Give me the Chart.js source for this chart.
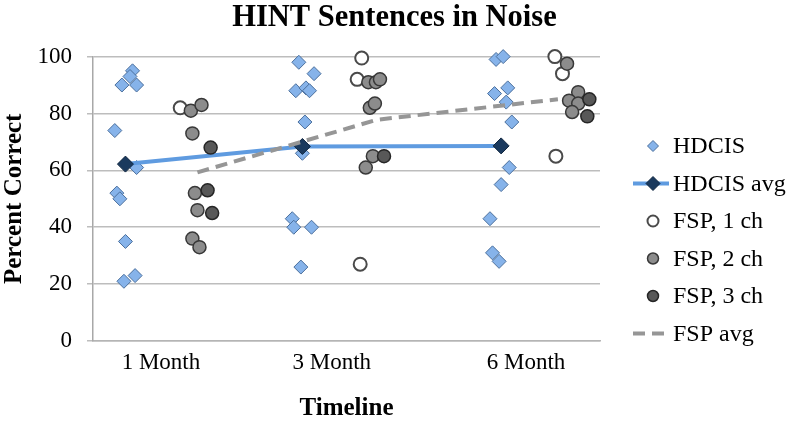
<!DOCTYPE html>
<html>
<head>
<meta charset="utf-8">
<script src="https://cdn.jsdelivr.net/npm/chart.js@4/dist/chart.umd.min.js"></script>
<style>
html, body { margin: 0; padding: 0; background: #fff; }
#wrap { width: 800px; height: 424px; }
</style>
</head>
<body>
<div id="wrap"><canvas id="hintChart"></canvas></div>
<script>
// x is a jitter position (0-100) along the timeline, y is percent correct
const TICK_POS = [13.4, 47.1, 85.4];
const TICK_LABELS = ['1 Month', '3 Month', '6 Month'];

const hdcisX = [7.8, 7.3, 5.7, 8.6, 4.3, 8.6, 4.7, 5.3, 6.4, 6.1, 8.3,
    40.6, 43.6, 40.0, 42.0, 42.7, 41.8, 41.3, 39.3, 39.6, 43.1, 41.0,
    79.5, 80.9, 79.2, 81.8, 81.5, 82.6, 82.1, 80.5, 78.3, 78.8, 80.1];
const hdcisY = [95, 93, 90, 90, 74, 61, 52, 50, 35, 21, 23,
    98, 94, 88, 89, 88, 77, 66, 43, 40, 40, 26,
    99, 100, 87, 89, 84, 77, 61, 55, 43, 31, 28];

const hdcisAvgX = [6.4, 41.3, 80.5];
const hdcisAvgY = [62.2, 68.4, 68.6];

const fsp1X = [17.2, 52.1, 53.0, 52.7, 91.1, 92.6, 91.3];
const fsp1Y = [82, 92, 99.5, 27, 100, 94, 65];

const fsp2X = [19.3, 21.4, 19.6, 20.1, 20.6, 19.6, 21.0,
    54.3, 55.8, 56.6, 54.6, 55.6, 55.2, 53.8,
    93.5, 95.7, 93.9, 95.7, 94.5];
const fsp2Y = [81, 83, 73, 52, 46, 36, 33,
    91, 91, 92, 82, 83.5, 65, 61,
    97.5, 87.5, 84.5, 83.5, 80.5];

const fsp3X = [23.2, 22.6, 23.5, 57.4, 97.9, 97.5];
const fsp3Y = [68, 53, 45, 65, 85, 79];

const fspAvgX = [20.6, 56.0, 91.7];
const fspAvgY = [59.3, 77.8, 85];

const SERIF = "'Liberation Serif', 'Times New Roman', serif";

const points = (xs, ys) => xs.map((x, i) => ({ x, y: ys[i] }));

// legend drawn in the right margin, one row per dataset
const sideLegend = {
    id: 'sideLegend',
    afterDraw(chart) {
        const ctx = chart.ctx;
        ctx.save();
        ctx.font = `24px ${SERIF}`;
        ctx.textBaseline = 'middle';
        chart.data.datasets.forEach((ds, i) => {
            const y = 146 + i * 37.5;
            const cx = 653;
            if (ds.showLine) {
                ctx.beginPath();
                ctx.setLineDash(ds.borderDash || []);
                ctx.strokeStyle = ds.borderColor;
                ctx.lineWidth = ds.borderWidth;
                ctx.moveTo(633, y);
                ctx.lineTo(669, y);
                ctx.stroke();
                ctx.setLineDash([]);
            }
            const r = ds.legendRadius;
            if (r) {
                ctx.beginPath();
                if (ds.pointStyle === 'rectRot') {
                    ctx.moveTo(cx - r, y);
                    ctx.lineTo(cx, y - r);
                    ctx.lineTo(cx + r, y);
                    ctx.lineTo(cx, y + r);
                    ctx.closePath();
                } else {
                    ctx.arc(cx, y, r, 0, Math.PI * 2);
                }
                ctx.fillStyle = ds.pointBackgroundColor;
                ctx.fill();
                ctx.strokeStyle = ds.pointBorderColor;
                ctx.lineWidth = ds.pointBorderWidth;
                ctx.stroke();
            }
            ctx.fillStyle = '#000';
            ctx.fillText(ds.label, 673, y + 1);
        });
        ctx.restore();
    },
};

new Chart(document.getElementById('hintChart'), {
    type: 'scatter',
    data: {
        datasets: [
            {
                label: 'HDCIS',
                data: points(hdcisX, hdcisY),
                pointStyle: 'rectRot',
                pointRadius: 7,
                pointBackgroundColor: '#86b3ea',
                pointBorderColor: '#4b6f9c',
                pointBorderWidth: 1,
                legendRadius: 5.5,
                clip: false,
                order: 6,
            },
            {
                label: 'HDCIS avg',
                data: points(hdcisAvgX, hdcisAvgY),
                showLine: true,
                borderColor: '#5f9be0',
                borderWidth: 4,
                pointStyle: 'rectRot',
                pointRadius: 8,
                pointBackgroundColor: '#1b3a5e',
                pointBorderColor: '#10263f',
                pointBorderWidth: 1,
                legendRadius: 7,
                clip: false,
                order: 5,
            },
            {
                label: 'FSP, 1 ch',
                data: points(fsp1X, fsp1Y),
                pointStyle: 'circle',
                pointRadius: 6.5,
                pointBackgroundColor: '#ffffff',
                pointBorderColor: '#4a4a4a',
                pointBorderWidth: 2,
                legendRadius: 5.5,
                clip: false,
                order: 4,
            },
            {
                label: 'FSP, 2 ch',
                data: points(fsp2X, fsp2Y),
                pointStyle: 'circle',
                pointRadius: 6.5,
                pointBackgroundColor: '#8c8c8c',
                pointBorderColor: '#383838',
                pointBorderWidth: 1.5,
                legendRadius: 5.5,
                clip: false,
                order: 3,
            },
            {
                label: 'FSP, 3 ch',
                data: points(fsp3X, fsp3Y),
                pointStyle: 'circle',
                pointRadius: 6.5,
                pointBackgroundColor: '#585858',
                pointBorderColor: '#262626',
                pointBorderWidth: 1.5,
                legendRadius: 5.5,
                clip: false,
                order: 2,
            },
            {
                label: 'FSP avg',
                data: points(fspAvgX, fspAvgY),
                showLine: true,
                borderColor: '#969696',
                borderWidth: 4,
                borderDash: [12, 7],
                pointRadius: 0,
                clip: false,
                order: 1,
            },
        ],
    },
    options: {
        responsive: true,
        maintainAspectRatio: false,
        animation: false,
        events: [],
        layout: {
            padding: { left: 0, right: 11, top: 0, bottom: 0 },
        },
        scales: {
            x: {
                type: 'linear',
                min: 0,
                max: 100,
                afterFit: (scale) => {
                    scale.height = 83;
                },
                afterBuildTicks: (scale) => {
                    scale.ticks = TICK_POS.map((value) => ({ value }));
                },
                ticks: {
                    autoSkip: false,
                    maxRotation: 0,
                    padding: 8,
                    color: '#000',
                    font: { family: SERIF, size: 23 },
                    callback: (value) => TICK_LABELS[TICK_POS.indexOf(value)],
                },
                grid: {
                    display: false,
                    drawTicks: false,
                },
                border: {
                    color: '#b5b5b5',
                    width: 1.5,
                },
                title: {
                    display: true,
                    text: 'Timeline',
                    color: '#000',
                    font: { family: SERIF, size: 25, weight: 'bold' },
                    padding: { top: 0, bottom: 0 },
                },
            },
            y: {
                min: 0,
                max: 100,
                afterFit: (scale) => {
                    scale.width = 93;
                },
                ticks: {
                    stepSize: 20,
                    padding: 15,
                    color: '#000',
                    font: { family: SERIF, size: 23 },
                },
                grid: {
                    color: '#bdbdbd',
                    lineWidth: 1.5,
                    tickLength: 6,
                },
                border: {
                    color: '#a8a8a8',
                    width: 1.5,
                },
                title: {
                    display: true,
                    text: 'Percent Correct',
                    color: '#000',
                    font: { family: SERIF, size: 25, weight: 'bold' },
                    padding: { top: 0, bottom: 0 },
                },
            },
            // empty axis that keeps the right-hand room for the legend
            legendSpace: {
                type: 'linear',
                position: 'right',
                min: 0,
                max: 1,
                afterFit: (scale) => {
                    scale.width = 189;
                },
                ticks: { display: false },
                grid: { display: false },
                border: { display: false },
            },
        },
        plugins: {
            legend: {
                display: false,
            },
            tooltip: {
                enabled: false,
            },
            title: {
                display: true,
                text: 'HINT Sentences in Noise',
                color: '#000',
                font: { family: SERIF, size: 30.5, weight: 'bold' },
                padding: { top: 0, bottom: 20 },
            },
        },
    },
    plugins: [sideLegend],
});
</script>
</body>
</html>
